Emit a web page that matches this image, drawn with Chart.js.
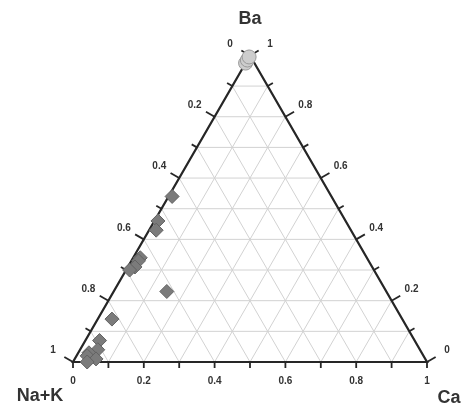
<!DOCTYPE html>
<html><head><meta charset="utf-8">
<script src="https://cdn.jsdelivr.net/npm/chart.js@4/dist/chart.umd.min.js"></script>
<style>html,body{margin:0;padding:0;background:#fff;overflow:hidden}#wrap{width:462px;height:408px}</style>
</head><body><div id="wrap"><canvas id="c" width="462" height="408"></canvas></div>
<script>
// Corner (component) names
const cornerNames = ['Na+K', 'Ba', 'Ca'];
// Tick positions every 0.1 and labels every 0.2
const tickValues = [0, 0.1, 0.2, 0.3, 0.4, 0.5, 0.6, 0.7, 0.8, 0.9, 1];
const labelValues = [0, 0.2, 0.4, 0.6, 0.8, 1];
const labelTexts = ['0', '0.2', '0.4', '0.6', '0.8', '1'];

// Diamond samples: fractions of Na+K, Ba, Ca
const diamondNaK = [0.45, 0.53, 0.55, 0.64, 0.65, 0.67, 0.69, 0.62, 0.82, 0.89, 0.91, 0.94, 0.95, 0.93, 0.96];
const diamondBa  = [0.54, 0.46, 0.43, 0.34, 0.33, 0.31, 0.30, 0.23, 0.14, 0.07, 0.04, 0.03, 0.02, 0.01, 0.00];
const diamondCa  = [0.01, 0.01, 0.02, 0.02, 0.02, 0.02, 0.01, 0.15, 0.04, 0.04, 0.05, 0.03, 0.03, 0.06, 0.04];

// Circle samples
const circleNaK = [0.025, 0.015, 0.005];
const circleBa  = [0.975, 0.985, 0.995];
const circleCa  = [0.0, 0.0, 0.0];

const SQ = Math.sqrt(3) / 2;
function toXY(nak, ba, ca) {
  const s = nak + ba + ca;
  ba /= s; ca /= s;
  return { x: ca + ba / 2, y: ba * SQ };
}
const diamondPts = diamondNaK.map((v, i) => toXY(v, diamondBa[i], diamondCa[i]));
const circlePts = circleNaK.map((v, i) => toXY(v, circleBa[i], circleCa[i]));

const ternaryPlugin = {
  id: 'ternary',
  beforeDatasetsDraw(chart) {
    const ctx = chart.ctx;
    const xs = chart.scales.x, ys = chart.scales.y;
    const P = (nak, ba, ca) => { const c = toXY(nak, ba, ca); return [xs.getPixelForValue(c.x), ys.getPixelForValue(c.y)]; };
    const line = (a, b) => { ctx.beginPath(); ctx.moveTo(a[0], a[1]); ctx.lineTo(b[0], b[1]); ctx.stroke(); };
    ctx.save();
    // grid
    ctx.strokeStyle = '#d2d2d2';
    ctx.lineWidth = 1;
    for (let i = 1; i < tickValues.length - 1; i++) {
      const t = tickValues[i];
      line(P(1 - t, t, 0), P(0, t, 1 - t));     // constant Ba
      line(P(1 - t, 0, t), P(0, 1 - t, t));     // constant Ca
      line(P(t, 0, 1 - t), P(t, 1 - t, 0));     // constant Na+K
    }
    // edges
    ctx.strokeStyle = '#262626';
    ctx.lineWidth = 2.2;
    ctx.beginPath();
    const A = P(1, 0, 0), B = P(0, 0, 1), C = P(0, 1, 0);
    ctx.moveTo(A[0], A[1]); ctx.lineTo(B[0], B[1]); ctx.lineTo(C[0], C[1]); ctx.closePath(); ctx.stroke();
    // ticks
    ctx.lineWidth = 1.8;
    const isMajor = t => labelValues.some(v => Math.abs(v - t) < 1e-9);
    const dl = [-SQ, -0.5], dr = [SQ, -0.5], db = [0, 1];
    tickValues.forEach(t => {
      // bottom edge: Ca
      let p = P(1 - t, 0, t);
      line(p, [p[0] + db[0] * 6, p[1] + db[1] * 6]);
      // left edge: Na+K
      p = P(t, 1 - t, 0);
      let L = isMajor(t) ? 10 : 6;
      line(p, [p[0] + dl[0] * L, p[1] + dl[1] * L]);
      // right edge: Ba
      p = P(0, t, 1 - t);
      line(p, [p[0] + dr[0] * L, p[1] + dr[1] * L]);
    });
    // labels
    ctx.fillStyle = '#333';
    ctx.font = 'bold 10px "Liberation Sans", Arial, sans-serif';
    ctx.textAlign = 'center';
    ctx.textBaseline = 'middle';
    labelValues.forEach((t, i) => {
      const txt = labelTexts[i];
      let p = P(1 - t, 0, t);
      ctx.fillText(txt, p[0], p[1] + 19);
      p = P(t, 1 - t, 0);
      ctx.fillText(txt, p[0] + dl[0] * 23, p[1] + dl[1] * 23);
      p = P(0, t, 1 - t);
      ctx.fillText(txt, p[0] + dr[0] * 23, p[1] + dr[1] * 23);
    });
    // corner titles
    ctx.font = 'bold 18px "Liberation Sans", Arial, sans-serif';
    ctx.fillStyle = '#333';
    ctx.fillText(cornerNames[1], C[0], C[1] - 36);
    ctx.fillText(cornerNames[0], A[0] - 33, A[1] + 34);
    ctx.fillText(cornerNames[2], B[0] + 22, B[1] + 36);
    ctx.restore();
  }
};

new Chart(document.getElementById('c'), {
  type: 'scatter',
  data: {
    datasets: [
      {
        label: 'diamonds',
        data: diamondPts,
        pointStyle: 'rectRot',
        pointRadius: 7,
        backgroundColor: '#7b7b7b',
        borderColor: '#626262',
        borderWidth: 1,
        clip: false
      },
      {
        label: 'circles',
        data: circlePts,
        pointStyle: 'circle',
        pointRadius: 7,
        backgroundColor: '#cdcdcd',
        borderColor: '#9a9a9a',
        borderWidth: 1,
        clip: false
      }
    ]
  },
  options: {
    responsive: false,
    animation: false,
    devicePixelRatio: 1,
    layout: { padding: { left: 73, right: 35, top: 8, bottom: 46 } },
    scales: {
      x: { type: 'linear', min: 0, max: 1, display: false },
      y: { type: 'linear', min: 0, max: 1, display: false }
    },
    plugins: { legend: { display: false }, tooltip: { enabled: false } }
  },
  plugins: [ternaryPlugin]
});
</script>
</body></html>
